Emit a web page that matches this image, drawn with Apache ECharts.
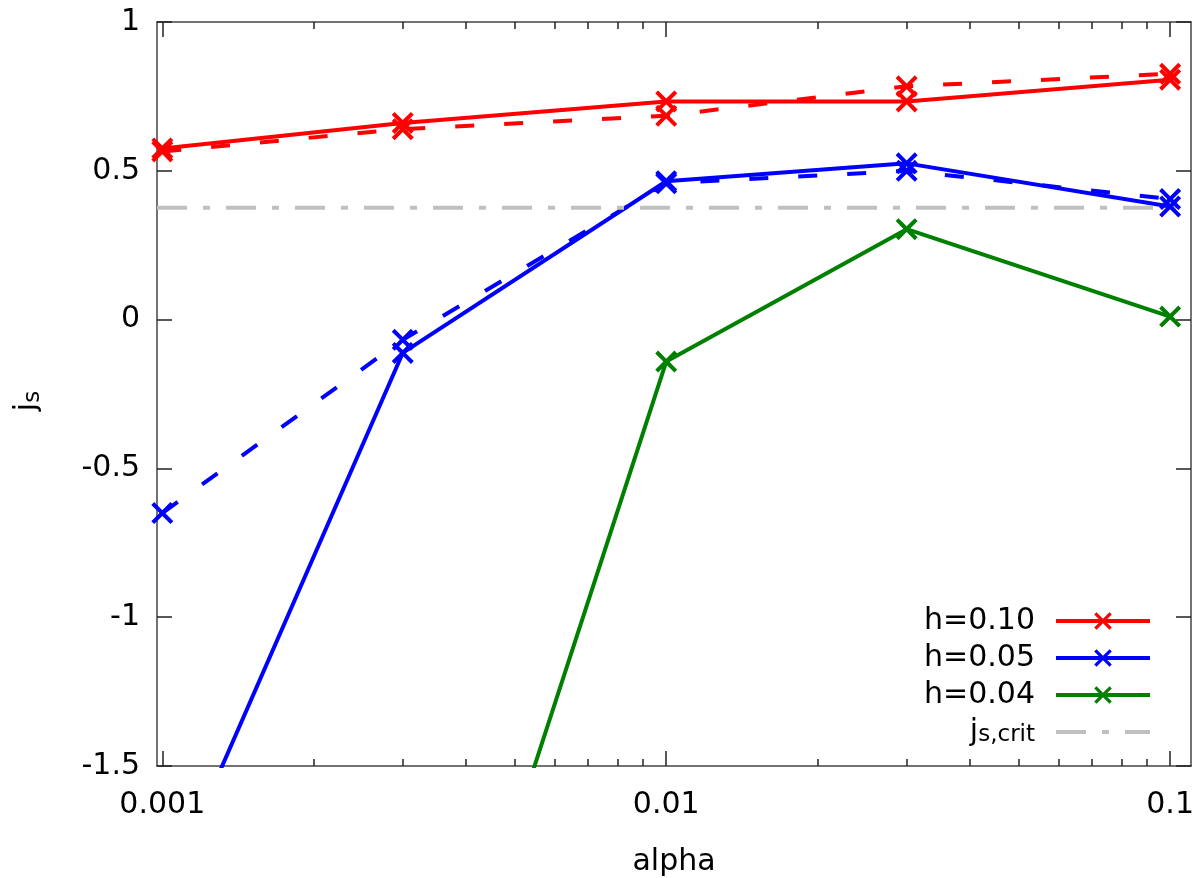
<!DOCTYPE html>
<html>
<head>
<meta charset="utf-8">
<script src="https://cdn.jsdelivr.net/npm/echarts@6/dist/echarts.min.js"></script>
<style>
  html, body { margin: 0; padding: 0; background: #fff; }
  #container { width: 1200px; height: 878px; }
</style>
</head>
<body>
<div id="container"></div>
<script>
// values
var alpha = [0.001, 0.003, 0.01, 0.03, 0.1];
var h10Solid = [0.575, 0.661, 0.733, 0.733, 0.806];
var h10Dashed = [0.565, 0.640, 0.685, 0.784, 0.826];
var h05Solid = [-1.96, -0.112, 0.465, 0.525, 0.380];
var h05Dashed = [-0.650, -0.068, 0.458, 0.500, 0.405];
var h04Solid = [null, -2.86, -0.141, 0.304, 0.010];
var jsCrit = 0.376;

var xRange = [0.000976, 0.11];
var xMajor = [0.001, 0.01, 0.1];
var xTickLabels = ['0.001', '0.01', '0.1'];
var xMinorMult = [2, 3, 4, 5, 6, 7, 8, 9];

var log10 = function (v) { return Math.log(v) / Math.LN10; };
var xMin = log10(xRange[0]);
var xMax = log10(xRange[1]);
var majorLog = xMajor.map(log10);
var minorLog = [];
xMajor.slice(0, 2).forEach(function (d) {
    xMinorMult.forEach(function (m) { minorLog.push(log10(d * m)); });
});

function pairs(ys) {
    return alpha.map(function (a, i) { return [log10(a), ys[i]]; });
}

var FONT = 'DejaVu Sans';
var frame = { show: true, onZero: false, lineStyle: { color: '#444', width: 1.5 } };
var noLine = { show: false, onZero: false };
var tickStyle = { color: '#222', width: 1.5 };
var cross = 'path://M0,2.6L2.6,0L10,7.4L17.4,0L20,2.6L12.6,10L20,17.4L17.4,20L10,12.6L2.6,20L0,17.4L7.4,10Z';

function lineSeries(name, ys, color, dashed) {
    return {
        name: name,
        type: 'line',
        data: pairs(ys),
        symbol: cross,
        symbolSize: 22,
        connectNulls: false,
        itemStyle: { color: color },
        lineStyle: { color: color, width: 4, type: dashed ? [19, 30] : 'solid' },
        emphasis: { disabled: true },
        animation: false
    };
}

var myChart = echarts.init(document.getElementById('container'));

var option = {
    backgroundColor: '#fff',
    textStyle: { fontFamily: FONT },
    grid: { left: 157, right: 9, top: 22, bottom: 112, outerBoundsMode: 'none' },
    xAxis: [
        {
            type: 'value', position: 'bottom', min: xMin, max: xMax,
            axisLine: frame,
            axisTick: { show: true, inside: true, length: 15, lineStyle: tickStyle, customValues: majorLog },
            axisLabel: {
                show: true, customValues: majorLog, margin: 24,
                fontFamily: FONT, fontSize: 30, color: '#000',
                formatter: function (v) {
                    for (var i = 0; i < majorLog.length; i++) {
                        if (Math.abs(majorLog[i] - v) < 1e-6) return xTickLabels[i];
                    }
                    return '';
                }
            },
            splitLine: { show: false },
            name: 'alpha', nameLocation: 'middle', nameGap: 81,
            nameTextStyle: { fontFamily: FONT, fontSize: 30, color: '#000' }
        },
        {
            type: 'value', position: 'bottom', min: xMin, max: xMax,
            axisLine: noLine,
            axisTick: { show: true, inside: true, length: 7, lineStyle: tickStyle, customValues: minorLog },
            axisLabel: { show: false },
            splitLine: { show: false }
        },
        {
            type: 'value', position: 'top', min: xMin, max: xMax,
            axisLine: frame,
            axisTick: { show: true, inside: true, length: 15, lineStyle: tickStyle, customValues: majorLog },
            axisLabel: { show: false },
            splitLine: { show: false }
        },
        {
            type: 'value', position: 'top', min: xMin, max: xMax,
            axisLine: noLine,
            axisTick: { show: true, inside: true, length: 7, lineStyle: tickStyle, customValues: minorLog },
            axisLabel: { show: false },
            splitLine: { show: false }
        }
    ],
    yAxis: [
        {
            type: 'value', position: 'left', min: -1.5, max: 1, interval: 0.5,
            axisLine: frame,
            axisTick: { show: true, inside: true, length: 15, lineStyle: tickStyle },
            axisLabel: { margin: 17, fontFamily: FONT, fontSize: 30, color: '#000' },
            splitLine: { show: false },
            name: '{m|j}{s|s}', nameLocation: 'middle', nameGap: 112, nameRotate: 90,
            nameTextStyle: {
                fontFamily: FONT, color: '#000', padding: [0, 14, 0, 0],
                rich: {
                    m: { fontFamily: FONT, fontSize: 30, lineHeight: 36, color: '#000' },
                    s: { fontFamily: FONT, fontSize: 23, lineHeight: 20, verticalAlign: 'bottom', color: '#000' }
                }
            }
        },
        {
            type: 'value', position: 'right', min: -1.5, max: 1, interval: 0.5,
            axisLine: frame,
            axisTick: { show: true, inside: true, length: 15, lineStyle: tickStyle },
            axisLabel: { show: false },
            splitLine: { show: false }
        }
    ],
    legend: {
        orient: 'vertical',
        right: 48,
        top: 606,
        padding: 0,
        align: 'right',
        itemWidth: 94,
        itemHeight: 22,
        itemGap: 7,
        selectedMode: false,
        lineStyle: { width: 4 },
        data: ['h=0.10', 'h=0.05', 'h=0.04', { name: 'js,crit', itemStyle: { opacity: 0 } }],
        formatter: function (name) {
            return name === 'js,crit' ? '{m|j}{s|s,crit}' : name;
        },
        textStyle: {
            fontFamily: FONT, fontSize: 30, color: '#000', lineHeight: 30,
            padding: [0, 16, 0, 0],
            rich: {
                m: { fontFamily: FONT, fontSize: 30, lineHeight: 30, color: '#000' },
                s: { fontFamily: FONT, fontSize: 23, lineHeight: 18, verticalAlign: 'bottom', color: '#000' }
            }
        }
    },
    series: [
        lineSeries('h=0.10', h10Solid, '#ff0000', false),
        lineSeries('h=0.10 b', h10Dashed, '#ff0000', true),
        lineSeries('h=0.05', h05Solid, '#0000ff', false),
        lineSeries('h=0.05 b', h05Dashed, '#0000ff', true),
        lineSeries('h=0.04', h04Solid, '#008000', false),
        {
            name: 'js,crit',
            type: 'line',
            data: [[xMin, jsCrit], [xMax, jsCrit]],
            symbol: 'none',
            itemStyle: { color: '#c0c0c0' },
            lineStyle: { color: '#c0c0c0', width: 4, type: [30, 16, 7, 16] },
            emphasis: { disabled: true },
            animation: false
        }
    ]
};

myChart.setOption(option, true);
window.onresize = function () {
    myChart.resize();
};
</script>
</body>
</html>
